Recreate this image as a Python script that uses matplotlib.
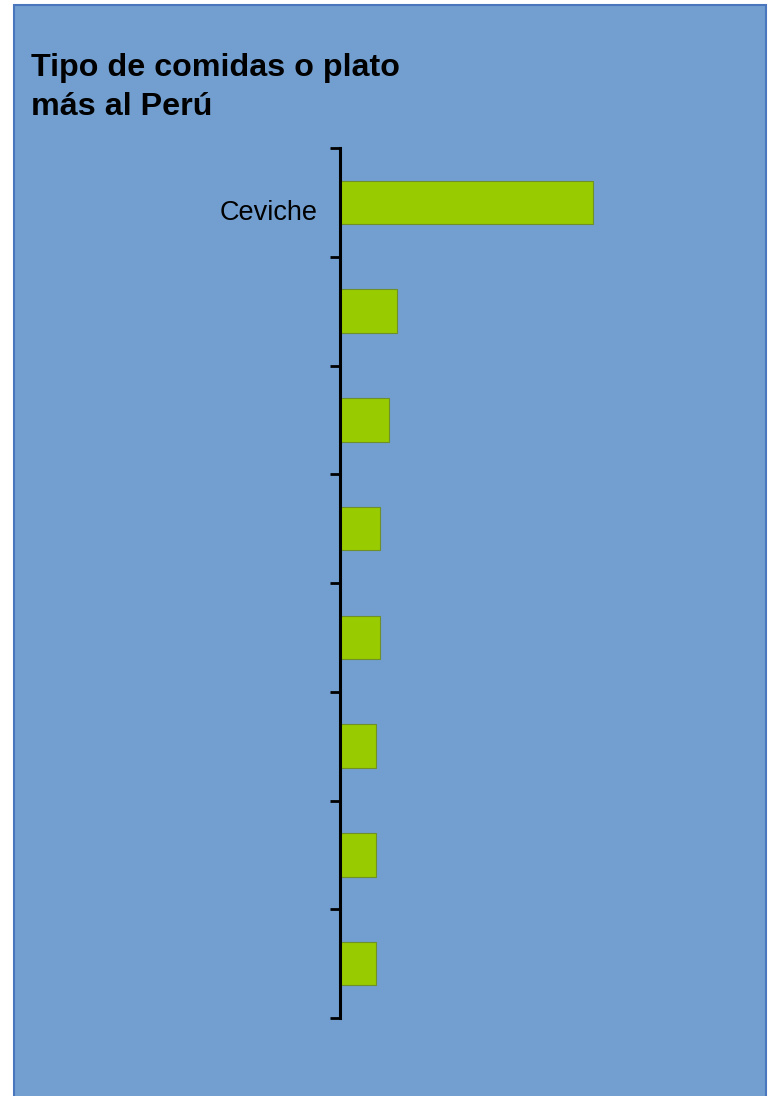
import matplotlib.pyplot as plt
import matplotlib.transforms as mtransforms
from matplotlib.patches import Rectangle

plt.rcParams['font.family'] = ['Liberation Sans', 'DejaVu Sans']

# only the first category name is visible in the chart
labels = ["Ceviche", "", "", "", "", "", "", ""]
values = [62, 14, 12, 10, 10, 9, 9, 9]

W, H = 769, 1096
fig = plt.figure(figsize=(W / 100, H / 100), dpi=100)
fig.patch.set_facecolor("white")

# blue chart panel, kept behind the axes
fig.patches.append(Rectangle((14 / W, -0.01), 752 / W, 1 - 5 / H + 0.01,
                             transform=fig.transFigure, facecolor="#729fcf",
                             edgecolor="#4a76bd", linewidth=1.5, zorder=-1))

ax = fig.add_axes([339.5 / W, 1 - 1018 / H, 409 / W, 870 / H])
ax.set_facecolor("none")

pos = list(range(len(values)))
ax.barh(pos, values, height=0.4, color="#99cc00", edgecolor="#6f8f2a", linewidth=0.8)

ax.set_xlim(0, 100)
ax.set_ylim(len(values) - 0.5, -0.5)

for s in ["top", "right", "bottom"]:
    ax.spines[s].set_visible(False)
ax.spines["left"].set_linewidth(2.2)
ax.spines["left"].set_color("black")

ax.set_xticks([])
ax.set_yticks(pos)
ax.set_yticklabels(labels, fontsize=19.5)
ax.tick_params(axis="y", which="major", length=0, pad=16)
ax.set_yticks([p - 0.5 for p in pos] + [len(values) - 0.5], minor=True)
ax.tick_params(axis="y", which="minor", length=7.5, width=2, direction="out")

# the category label sits a little below the bar centre
shift = mtransforms.ScaledTranslation(0, -8 / 100, fig.dpi_scale_trans)
for lab in ax.get_yticklabels():
    lab.set_transform(lab.get_transform() + shift)

fig.text(31 / W, 1 - 76 / H, "Tipo de comidas o plato", fontsize=23.2,
         fontweight="bold", va="baseline", ha="left")
fig.text(31 / W, 1 - 115 / H, "más al Perú", fontsize=23.2,
         fontweight="bold", va="baseline", ha="left")

fig.savefig("out.png", dpi=100)
